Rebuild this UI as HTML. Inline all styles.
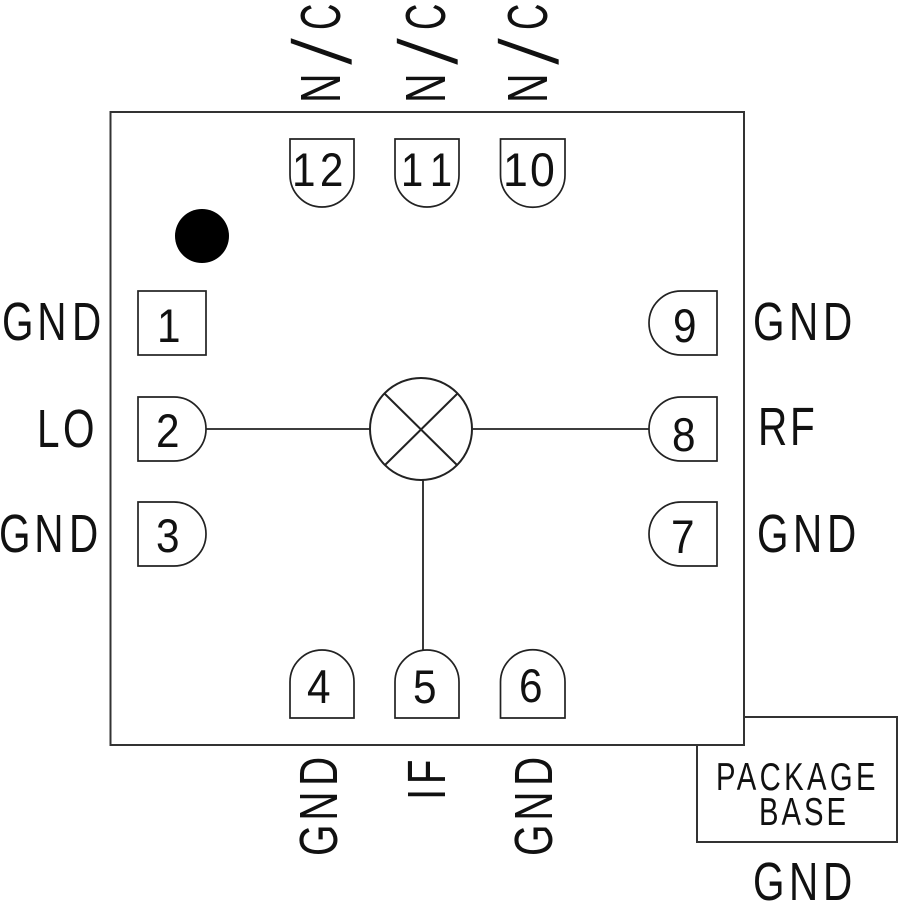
<!DOCTYPE html>
<html><head><meta charset="utf-8"><style>
html,body{margin:0;padding:0;background:#fff}
svg{display:block}
text{font-family:"Liberation Sans",sans-serif;fill:#111}
.l{font-size:54px}
.v{font-size:57px}
.n{font-size:47px}
.p{font-size:39px;letter-spacing:4.500px}
.b{font-size:39px;letter-spacing:4px}
.s{fill:none;stroke:#222;stroke-width:1.7}
.o{fill:none;stroke:#333;stroke-width:2}
.k{font-size:86px;stroke:#fff;stroke-width:2.600px}
</style></head><body>
<svg width="900" height="904" viewBox="0 0 900 904" xmlns="http://www.w3.org/2000/svg">
<path class="o" d="M697 745V842H897V717H744"/>
<rect class="o" x="110.500" y="112" width="633.500" height="633"/>
<circle cx="202" cy="236" r="27" fill="#000"/>
<!-- top pins -->
<path class="s" d="M290 139H354V175A32 32 0 0 1 290 175Z"/>
<path class="s" d="M395 139H459V175A32 32 0 0 1 395 175Z"/>
<path class="s" d="M500.500 139H565V175A32 32 0 0 1 500.500 175Z"/>
<!-- bottom pins -->
<path class="s" d="M290 718H354V682A32 32 0 0 0 290 682Z"/>
<path class="s" d="M395 718H459V682A32 32 0 0 0 395 682Z"/>
<path class="s" d="M500.500 718H565V682A32 32 0 0 0 500.500 682Z"/>
<!-- left pins -->
<rect class="s" x="138" y="291" width="68" height="64"/>
<path class="s" d="M138 397H174A32 32 0 0 1 174 461H138Z"/>
<path class="s" d="M138 502H174A32 32 0 0 1 174 566H138Z"/>
<!-- right pins -->
<path class="s" d="M717 291H681A32 32 0 0 0 681 355H717Z"/>
<path class="s" d="M717 397H681A32 32 0 0 0 681 461H717Z"/>
<path class="s" d="M717 502H681A32 32 0 0 0 681 566H717Z"/>
<!-- mixer -->
<circle cx="421" cy="429" r="51" fill="none" stroke="#222" stroke-width="2"/>
<path d="M385 394L457 465M457 394L385 465" fill="none" stroke="#222" stroke-width="2"/>
<path d="M206 429H370M473 429H649M423 480V650" fill="none" stroke="#222" stroke-width="1.800"/>
<!-- side labels -->
<text class="l" transform="translate(2,340) scale(.75,1)" x="0 47 93.300">GND</text>
<text class="l" transform="translate(37,447) scale(.75,1)" x="0 34.700">LO</text>
<text class="l" transform="translate(-1,552) scale(.75,1)" x="0 47 93.300">GND</text>
<text class="l" transform="translate(753,340) scale(.75,1)" x="0 48 93.300">GND</text>
<text class="l" transform="translate(758,445) scale(.75,1)" x="0 42.700">RF</text>
<text class="l" transform="translate(757,552) scale(.75,1)" x="0 48 93.300">GND</text>
<text class="l" transform="translate(753,900) scale(.75,1)" x="0 48 93.300">GND</text>
<text class="p" transform="translate(716,790) scale(.75,1)">PACKAGE</text>
<text class="b" transform="translate(759,825) scale(.75,1)">BASE</text>
<!-- vertical labels -->
<g transform="translate(340,103) rotate(-90) scale(.72,1)"><text class="v">N</text></g>
<g transform="translate(352,67) rotate(-90) scale(1.300,1)"><text class="k">/</text></g>
<g transform="translate(340,30) rotate(-90) scale(.64,1)"><text class="v">C</text></g>
<g transform="translate(445,103) rotate(-90) scale(.72,1)"><text class="v">N</text></g>
<g transform="translate(458,67) rotate(-90) scale(1.300,1)"><text class="k">/</text></g>
<g transform="translate(445,30) rotate(-90) scale(.64,1)"><text class="v">C</text></g>
<g transform="translate(547,103) rotate(-90) scale(.72,1)"><text class="v">N</text></g>
<g transform="translate(559,67) rotate(-90) scale(1.300,1)"><text class="k">/</text></g>
<g transform="translate(547,30) rotate(-90) scale(.64,1)"><text class="v">C</text></g>
<text class="l" transform="translate(337,856) rotate(-90) scale(.75,1)" x="0 47 93.300">GND</text>
<text class="l" transform="translate(445,800) rotate(-90) scale(.75,1)" x="0 21">IF</text>
<text class="l" transform="translate(552,856) rotate(-90) scale(.75,1)" x="0 47 93.300">GND</text>
<!-- pin numbers -->
<text class="n" transform="translate(292,186) scale(.9,1)" x="0 31">12</text>
<text class="n" transform="translate(401,186) scale(.85,1)" x="0 34">11</text>
<text class="n" transform="translate(503,186) scale(.95,1)" x="0 28.500">10</text>
<text class="n" transform="translate(157,342) scale(.9,1)">1</text>
<text class="n" transform="translate(156,447) scale(.9,1)">2</text>
<text class="n" transform="translate(156,552) scale(.9,1)">3</text>
<text class="n" transform="translate(673,342) scale(.9,1)">9</text>
<text class="n" transform="translate(672,451) scale(.9,1)">8</text>
<text class="n" transform="translate(671,553) scale(.9,1)">7</text>
<text class="n" transform="translate(307,703) scale(.9,1)">4</text>
<text class="n" transform="translate(413,703) scale(.9,1)">5</text>
<text class="n" transform="translate(519,702) scale(.9,1)">6</text>
</svg>
</body></html>
